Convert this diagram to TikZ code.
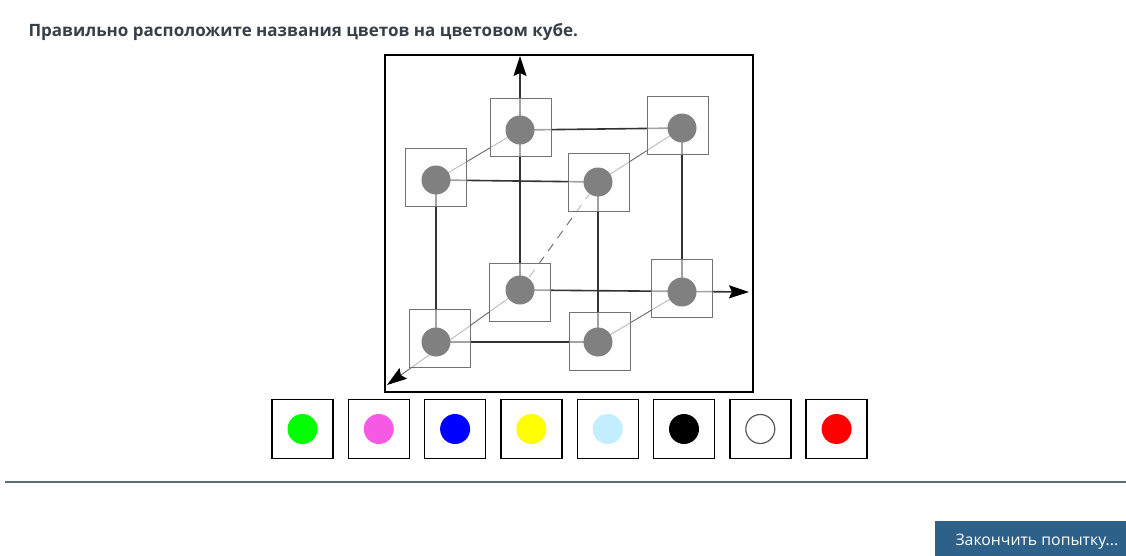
\documentclass[tikz,border=0pt]{standalone}
\usepackage{fontspec}
\setmainfont{Open Sans}
\usetikzlibrary{arrows.meta}
\definecolor{titlec}{HTML}{373F47}
\definecolor{rulec}{HTML}{5E6C73}
\definecolor{btnc}{HTML}{2D6189}
\definecolor{edgec}{HTML}{333333}
\definecolor{dotc}{HTML}{808080}
\definecolor{cgreen}{HTML}{00FF00}
\definecolor{cpink}{HTML}{F65AE3}
\definecolor{cblue}{HTML}{0000FF}
\definecolor{cyellow}{HTML}{FFFF00}
\definecolor{clight}{HTML}{C2EEFF}
\definecolor{cred}{HTML}{FF0000}
\tikzset{
  vtx/.style={circle,fill=dotc,minimum size=29pt,inner sep=0pt},
  vbox/.style={draw=black!55,line width=0.9pt,fill=white,fill opacity=0.55,minimum width=61pt,minimum height=58pt,inner sep=0pt},
  edge/.style={draw=edgec,line width=1.6pt},
  zedge/.style={draw=black!60,line width=0.9pt},
  axtip/.style={-{Stealth[length=20pt,width=13pt,inset=3pt,color=black]}},
  swbox/.style={draw=black,line width=1.4pt,fill=white,minimum width=61pt,minimum height=59pt,inner sep=0pt},
  sw/.style={circle,minimum size=30pt,inner sep=0pt},
}
\begin{document}
\begin{tikzpicture}[x=1pt,y=-1pt]
\useasboundingbox (0,0) rectangle (1126,555);
% title
\node[anchor=west,text=titlec,font=\bfseries\fontsize{17}{20}\selectfont] (title) at (25,32) {Правильно расположите названия цветов на цветовом кубе.};
% frame
\node[draw=black,line width=1.4pt,minimum width=368pt,minimum height=337pt,inner sep=0pt] (frame) at (569,223.5) {};
% vertices (circles) coordinates
\coordinate (TBL) at (520,130);
\coordinate (TBR) at (682,128);
\coordinate (TFL) at (436,180);
\coordinate (TFR) at (598,182);
\coordinate (BBL) at (520,290);
\coordinate (BBR) at (682,292);
\coordinate (BFL) at (436,342);
\coordinate (BFR) at (598,342);
\coordinate (tipY) at (520,56);
\coordinate (tipX) at (749,292);
\coordinate (tipZ) at (387,385);
% dark edges
\draw[edge] (TFL) -- (TFR);
\draw[edge] (TBL) -- (TBR);
\draw[edge] (BFL) -- (BFR);
\draw[edge] (TFL) -- (BFL);
\draw[edge] (TFR) -- (BFR);
\draw[edge] (TBR) -- (BBR);
\draw[edge,axtip] (BBL) -- (tipY);
\draw[edge,axtip] (BBL) -- (tipX);
% depth edges
\draw[zedge] (TBL) -- (TFL);
\draw[zedge] (TBR) -- (TFR);
\draw[zedge] (BBR) -- (BFR);
\draw[zedge,dash pattern=on 9pt off 7pt] (BBL) -- (TFR);
\draw[zedge,axtip] (BBL) -- (tipZ);
% boxes
\node[vbox] (bTBL) at (520.5,127.5) {};
\node[vbox] (bTBR) at (677.5,125) {};
\node[vbox] (bTFL) at (436,177) {};
\node[vbox] (bTFR) at (598.5,182.5) {};
\node[vbox] (bBBL) at (520,292.5) {};
\node[vbox] (bBBR) at (681.5,288) {};
\node[vbox] (bBFL) at (440,338) {};
\node[vbox] (bBFR) at (599.5,341.5) {};
% circles
\node[vtx] (vTBL) at (TBL) {};
\node[vtx] (vTBR) at (TBR) {};
\node[vtx] (vTFL) at (TFL) {};
\node[vtx] (vTFR) at (TFR) {};
\node[vtx] (vBBL) at (BBL) {};
\node[vtx] (vBBR) at (BBR) {};
\node[vtx] (vBFL) at (BFL) {};
\node[vtx] (vBFR) at (BFR) {};
% swatches
\foreach \i/\c in {0/cgreen,1/cpink,2/cblue,3/cyellow,4/clight,5/black,7/cred}{
  \node[swbox] (s\i) at (302.5+76.3*\i,429) {};
  \node[sw,fill=\c] (d\i) at (s\i.center) {};
}
\node[swbox] (s6) at (302.5+76.3*6,429) {};
\node[sw,draw=black!65,line width=1.2pt,minimum size=29pt] (d6) at (s6.center) {};
% rule
\draw[rulec,line width=1.6pt] (5,482) coordinate (r1) -- (1126,482) coordinate (r2);
% button
\node[fill=btnc,minimum width=200pt,minimum height=40pt,anchor=north west,inner sep=0pt] (btn) at (935,521) {};
\node[text=white,font=\fontsize{15.8}{18}\selectfont,anchor=west] (btnt) at (952,542) {Закончить попытку...};
\end{tikzpicture}
\end{document}
